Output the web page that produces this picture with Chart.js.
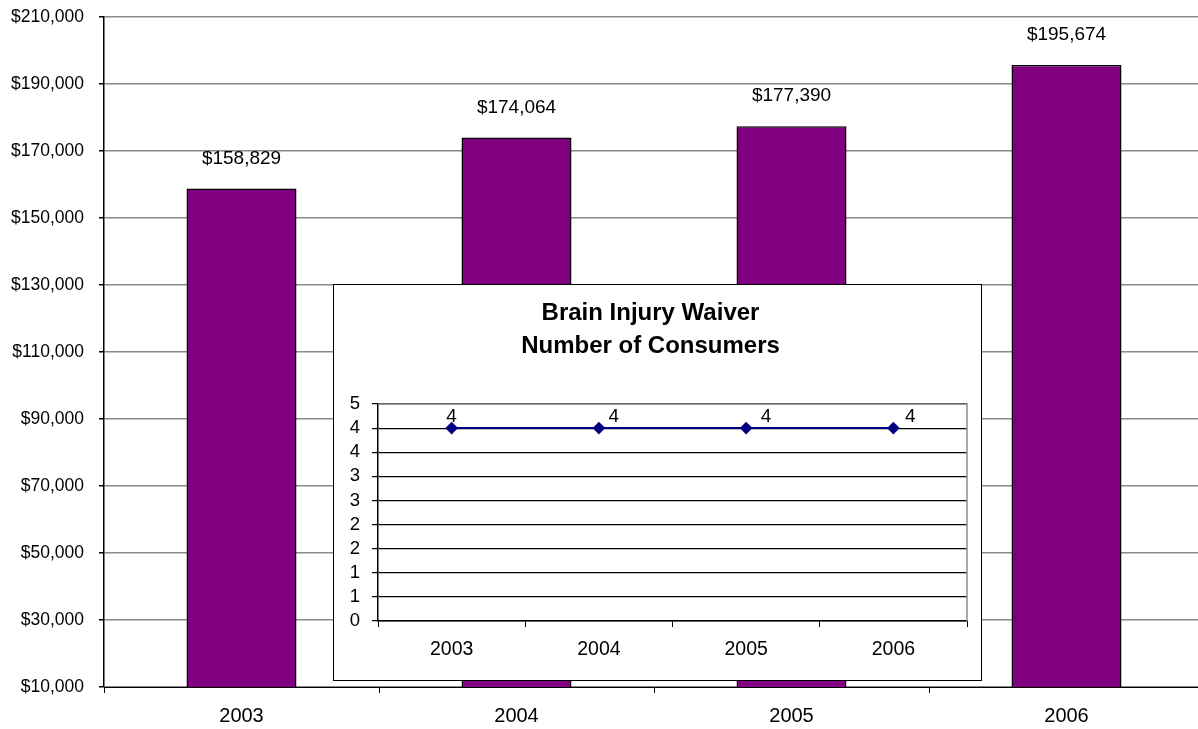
<!DOCTYPE html>
<html>
<head>
<meta charset="utf-8">
<script src="https://cdn.jsdelivr.net/npm/chart.js@4.4.1/dist/chart.umd.min.js"></script>
<style>
  html, body { margin:0; padding:0; background:#fff; }
  #wrap { position:relative; width:1198px; height:729px; overflow:hidden; }
  #costChart { position:absolute; left:0; top:0; }
  #inset { position:absolute; left:333px; top:284px; width:649px; height:397px; box-sizing:border-box; border:1px solid #000; background:#fff; }
  #consumerChart { display:block; }
</style>
</head>
<body>
<div id="wrap">
  <canvas id="costChart" width="1204" height="729"></canvas>
  <div id="inset"><canvas id="consumerChart" width="647" height="395"></canvas></div>
</div>
<script>
// ── Data ─────────────────────────────────────────────
const years = ['2003','2004','2005','2006'];
const costPerYear = [158829, 174064, 177390, 195674];
const consumers = [4, 4, 4, 4];
const insetTitle = ['Brain Injury Waiver','Number of Consumers'];

Chart.defaults.font.family = "'Liberation Sans', Arial, sans-serif";
Chart.defaults.color = '#000';
Chart.defaults.animation = false;

const money = v => '$' + Math.round(v).toLocaleString('en-US');

// value labels above bars / next to points
const valueLabels = {
    id: 'valueLabels',
    afterDatasetsDraw(chart, args, opts) {
        const ctx = chart.ctx;
        const meta = chart.getDatasetMeta(0);
        const data = chart.data.datasets[0].data;
        ctx.save();
        ctx.font = opts.font;
        ctx.fillStyle = '#000';
        ctx.textAlign = 'center';
        ctx.textBaseline = 'middle';
        meta.data.forEach((el, i) => {
            const dx = opts.dx ? opts.dx[i] : 0;
            ctx.fillText(opts.format(data[i]), el.x + dx, el.y - opts.dy);
        });
        ctx.restore();
    }
};

// gray plot-area frame on the top and right (inset chart)
const plotFrame = {
    id: 'plotFrame',
    afterDraw(chart, args, opts) {
        if (!opts.enabled) return;
        const { left, right, top, bottom } = chart.chartArea;
        const ctx = chart.ctx;
        ctx.save();
        ctx.strokeStyle = '#8c8c8c';
        ctx.lineWidth = 1.5;
        ctx.beginPath();
        ctx.moveTo(left, top);
        ctx.lineTo(right, top);
        ctx.lineTo(right, bottom);
        ctx.stroke();
        ctx.restore();
    }
};

// 1. Cost per year bars
new Chart(document.getElementById('costChart'), {
    type: 'bar',
    data: {
        labels: years,
        datasets: [{ data: costPerYear, backgroundColor: '#800080', borderColor: '#000', borderWidth: 1.5, barPercentage: 0.4, categoryPercentage: 1 }]
    },
    options: {
        responsive: false,
        layout: { padding: { top: 17, right: 0, left: 0, bottom: 0 } },
        plugins: {
            legend: { display: false }, tooltip: { enabled: false }, title: { display: false },
            valueLabels: { font: "19px 'Liberation Sans', Arial, sans-serif", dy: 30, format: money },
            plotFrame: { enabled: false }
        },
        scales: {
            x: {
                grid: { offset: true, drawOnChartArea: false, drawTicks: true, tickLength: 6, color: '#000' },
                border: { color: '#000', width: 1 },
                ticks: { font: { size: 20 }, padding: 11 },
                afterFit: s => { s.height = 42; }
            },
            y: {
                min: 10000, max: 210000,
                grid: { color: '#8a8a8a', lineWidth: 1.5, tickLength: 5, tickColor: '#000' },
                border: { color: '#000', width: 1.5 },
                ticks: { stepSize: 20000, font: { size: 17.5 }, padding: 15, autoSkip: false, callback: v => money(v) },
                afterFit: s => { s.width = 104; s.paddingTop = 10; s.paddingBottom = 10; }
            }
        }
    },
    plugins: [valueLabels, plotFrame]
});

// 2. Number of consumers (inset line)
new Chart(document.getElementById('consumerChart'), {
    type: 'line',
    data: {
        labels: years,
        datasets: [{ data: consumers, borderColor: '#000080', borderWidth: 2, pointStyle: 'rectRot', pointRadius: 5, pointBackgroundColor: '#000080', pointBorderColor: '#000080' }]
    },
    options: {
        responsive: false,
        layout: { padding: { top: 0, right: 14, left: 0, bottom: 0 } },
        plugins: {
            legend: { display: false }, tooltip: { enabled: false },
            title: { display: true, text: insetTitle, font: { size: 24, weight: 'bold', lineHeight: 1.375 }, color: '#000', padding: { top: 12, bottom: 41 } },
            valueLabels: { font: "19px 'Liberation Sans', Arial, sans-serif", dy: 11, dx: [0, 15, 20, 17], format: v => String(v) },
            plotFrame: { enabled: true }
        },
        scales: {
            x: {
                offset: true,
                grid: { offset: true, drawOnChartArea: false, drawTicks: true, tickLength: 6, color: '#000' },
                border: { color: '#000', width: 1.5 },
                ticks: { font: { size: 19.5 }, padding: 11 },
                afterFit: s => { s.height = 59; }
            },
            y: {
                min: 0, max: 4.5,
                grid: { color: '#000', lineWidth: 1.2, tickLength: 6 },
                border: { color: '#000', width: 1.5 },
                ticks: { stepSize: 0.5, font: { size: 18.5 }, padding: 12, autoSkip: false, callback: v => Math.round(v) },
                afterFit: s => { s.width = 44; s.paddingTop = 8; s.paddingBottom = 8; }
            }
        }
    },
    plugins: [valueLabels, plotFrame]
});
</script>
</body>
</html>
